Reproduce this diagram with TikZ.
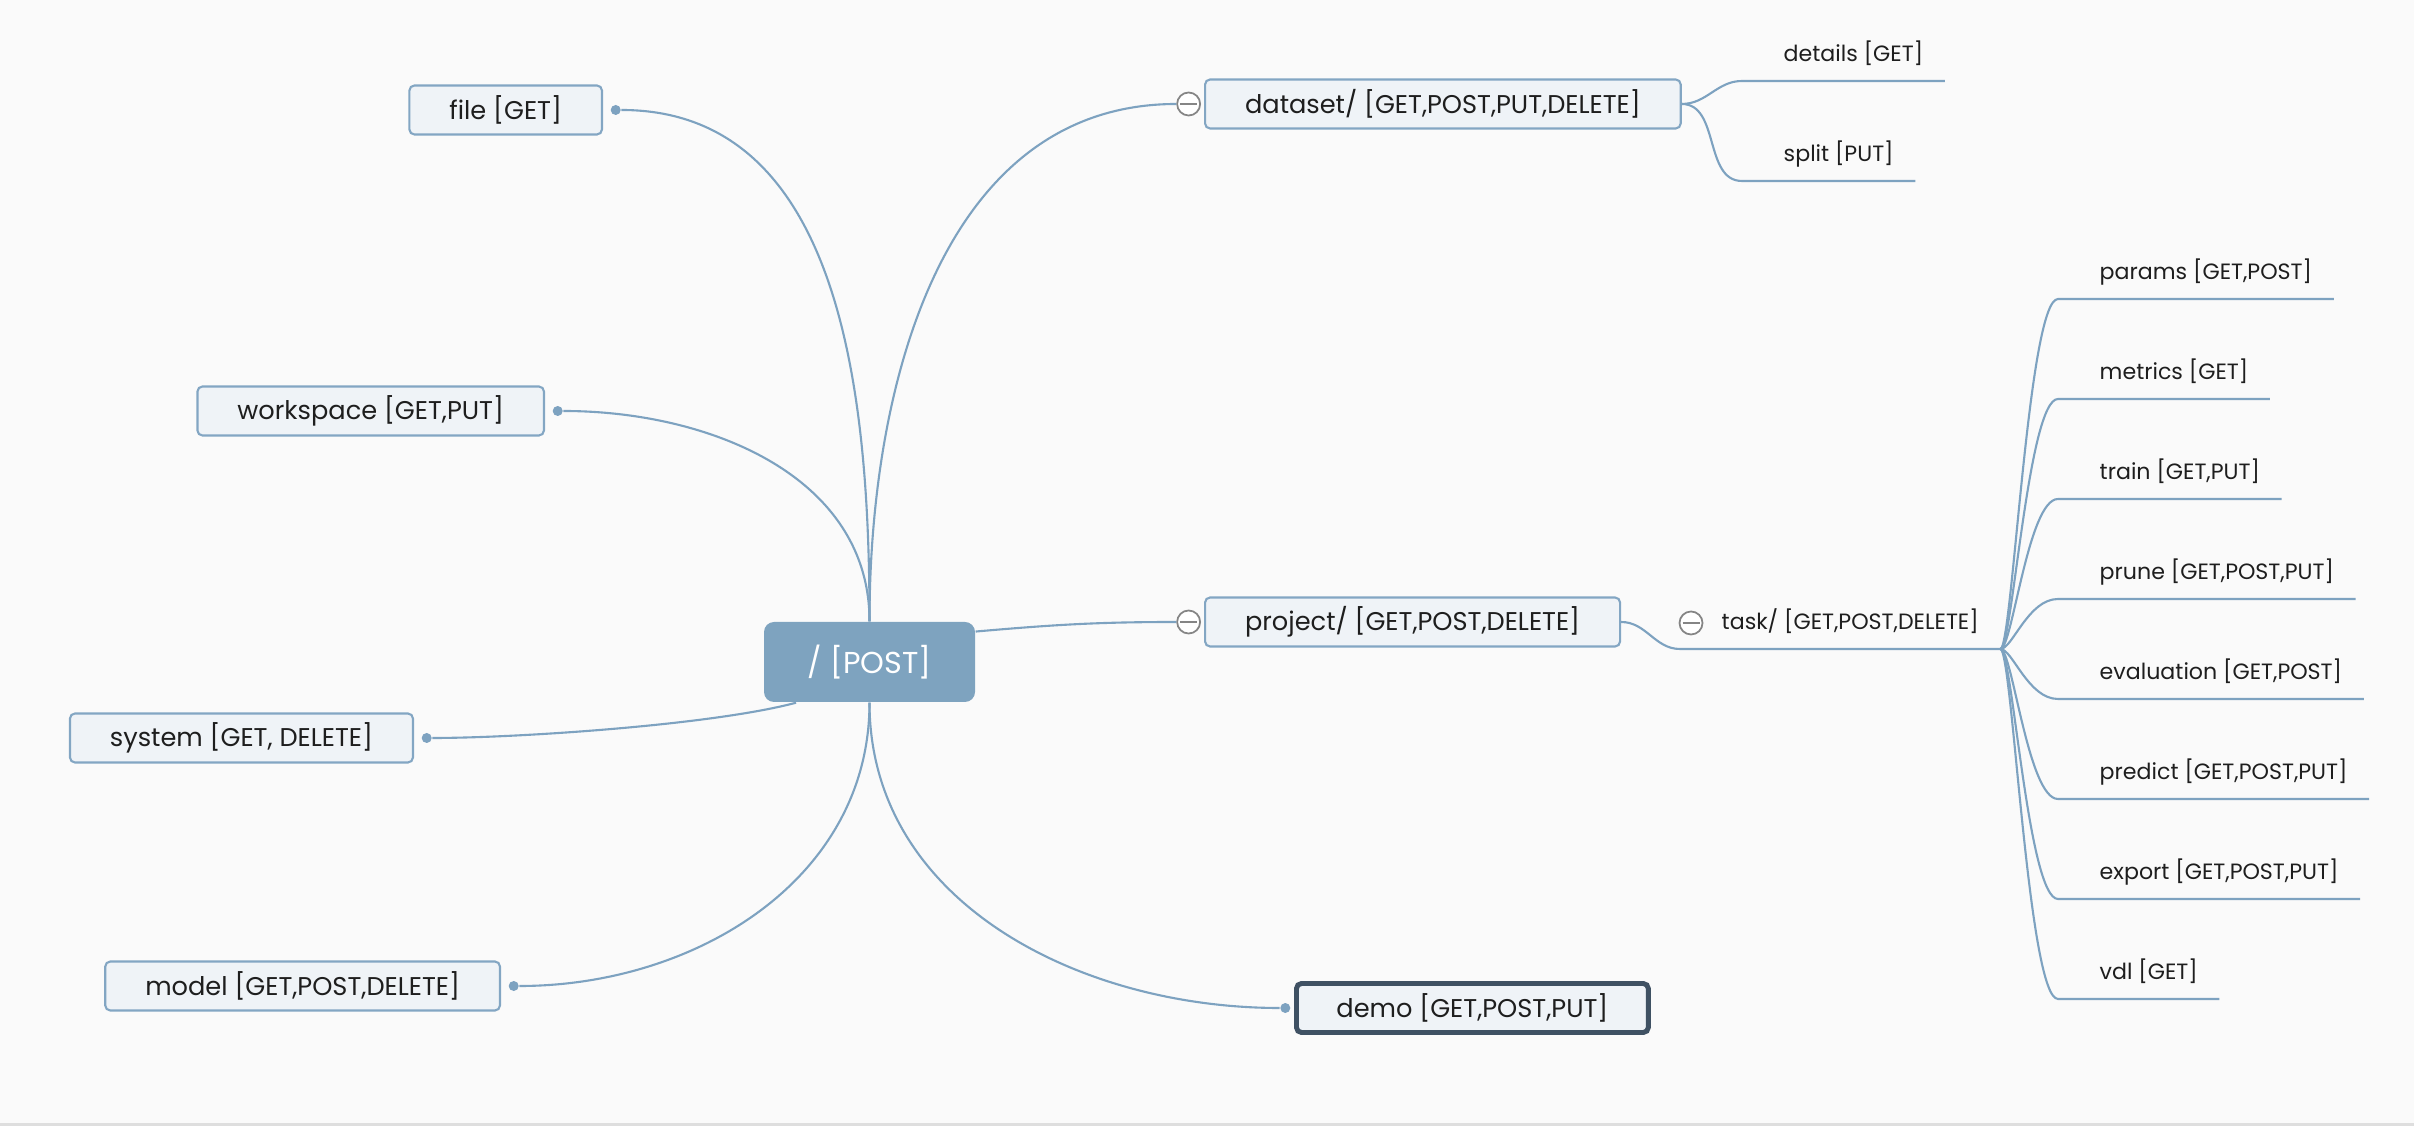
\documentclass[tikz,border=0pt]{standalone}
\usepackage{fontspec}
\setmainfont{Poppins}
\usetikzlibrary{positioning}
\definecolor{paper}{HTML}{FAFAFA}
\definecolor{wirec}{HTML}{7DA2C0}
\definecolor{boxline}{HTML}{83A6C3}
\definecolor{boxfill}{HTML}{EFF3F7}
\definecolor{rootfill}{HTML}{7EA3BF}
\definecolor{demoline}{HTML}{3F5163}
\definecolor{foldgray}{HTML}{858585}
\definecolor{edgegray}{HTML}{DEDEDE}
\definecolor{ink}{HTML}{1E1E1E}

\begin{document}
\begin{tikzpicture}[
  wire/.style={draw=wirec, line width=0.6pt},
  box/.style={draw=boxline, fill=boxfill, line width=0.6pt, rounded corners=0.05cm,
    minimum height=0.49cm, inner xsep=0.4cm, inner ysep=0pt, text=ink,
    font=\fontsize{7.3}{9}\selectfont},
  root/.style={fill=rootfill, rounded corners=0.1cm, minimum width=2.11cm,
    minimum height=0.8cm, text=white, font=\fontsize{8.6}{10}\selectfont},
  leaf/.style={anchor=south west, inner xsep=0.21cm, inner ysep=0pt, text depth=0.19cm,
    execute at begin node={\hspace*{0.2cm}}, text=ink, font=\fontsize{6.3}{8}\selectfont},
  dot/.style={circle, fill=wirec, inner sep=0pt, minimum size=0.1cm},
  fold/.style={circle, draw=foldgray, fill=white, line width=0.5pt, inner sep=0pt,
    minimum size=0.23cm, path picture={\draw[foldgray, line width=0.5pt]
      ([xshift=-0.085cm]path picture bounding box.center) --
      ([xshift=0.085cm]path picture bounding box.center);}}
]
  \fill[paper] (0,0) rectangle (24.14,11.26);
  \fill[edgegray] (0,0) rectangle (24.14,0.035);
  \useasboundingbox (0,0) rectangle (24.14,11.26);

  \node[root] (root) at (8.695,4.64) {/ [POST]};

  \node[box, anchor=east] (file) at (6.03,10.16) {file [GET]};
  \node[box, anchor=east] (workspace) at (5.45,7.15) {workspace [GET,PUT]};
  \node[box, anchor=east] (system) at (4.14,3.88) {system [GET, DELETE]};
  \node[box, anchor=east] (model) at (5.01,1.40) {model [GET,POST,DELETE]};
  \node[box, anchor=west] (dataset) at (12.04,10.22) {dataset/ [GET,POST,PUT,DELETE]};
  \node[box, anchor=west] (project) at (12.04,5.04) {project/ [GET,POST,DELETE]};
  \node[box, anchor=west, draw=demoline, line width=1.4pt] (demo) at (12.94,1.18) {demo [GET,POST,PUT]};

  \node[dot, right=0.07cm of file] (filedot) {};
  \node[dot, right=0.07cm of workspace] (workspacedot) {};
  \node[dot, right=0.07cm of system] (systemdot) {};
  \node[dot, right=0.07cm of model] (modeldot) {};
  \node[dot, left=0.03cm of demo] (demodot) {};

  \node[leaf] (details) at (17.42,10.45) {details [GET]};
  \node[leaf] (split) at (17.42,9.45) {split [PUT]};
  \node[leaf] (task) at (16.80,4.77) {task/ [GET,POST,DELETE]};

  \foreach \name/\txt [count=\i from 0] in {params/{params [GET,POST]},
      metrics/{metrics [GET]}, train/{train [GET,PUT]}, prune/{prune [GET,POST,PUT]},
      evaluation/{evaluation [GET,POST]}, predict/{predict [GET,POST,PUT]},
      export/{export [GET,POST,PUT]}, vdl/{vdl [GET]}}
    \node[leaf] (\name) at (20.58,8.27-\i) {\txt};

  \draw[wire] (filedot) to[out=0,in=90] (root.north);
  \draw[wire] (workspacedot) to[out=0,in=90] (root.north);
  \draw[wire] (systemdot) to[out=0,in=-165,looseness=0.6] (root.-151);
  \draw[wire] (modeldot) to[out=0,in=-90] (root.south);
  \draw[wire] (root.south) to[out=-90,in=180] (demodot);

  \node[fold, left=0.03cm of dataset] (datasetfold) {};
  \node[fold, left=0.03cm of project] (projectfold) {};
  \node[fold] (taskfold) at (16.91,5.03) {};

  \draw[wire] (root.north) to[out=90,in=180] (datasetfold.west);
  \draw[wire] (root.16) to[out=5,in=180] (projectfold.west);

  \draw[wire] (dataset.east) to[out=0,in=180] (details.south west) -- (details.south east);
  \draw[wire] (dataset.east) to[out=0,in=180] (split.south west) -- (split.south east);
  \draw[wire] (project.east) to[out=0,in=180] (task.south west) -- (task.south east);
  \foreach \name in {params,metrics,train,prune,evaluation,predict,export,vdl}
    \draw[wire] (task.south east) .. controls +(0.12,0) and +(-0.3,0) .. (\name.south west)
      -- (\name.south east);
\end{tikzpicture}
\end{document}
